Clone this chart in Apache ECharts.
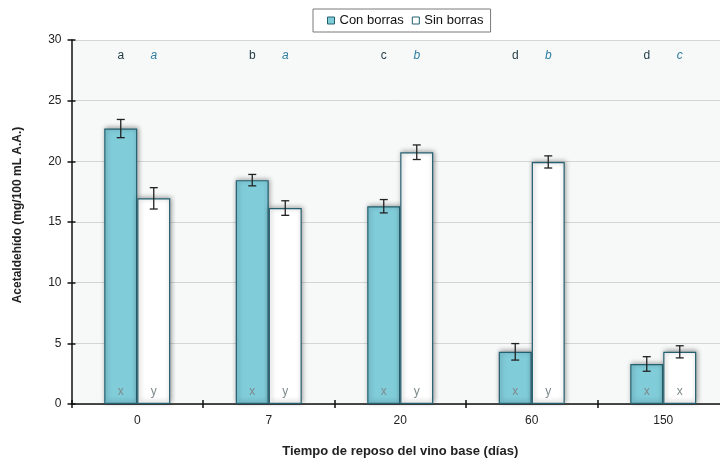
<!DOCTYPE html>
<html>
<head>
<meta charset="utf-8">
<script src="https://cdn.jsdelivr.net/npm/echarts@6/dist/echarts.min.js"></script>
<style>
  html, body { margin: 0; padding: 0; background: #ffffff; }
  #chart { width: 720px; height: 458px; }
</style>
</head>
<body>
<div id="chart"></div>
<script>
// Acetaldehyde content by ageing time of the base wine, with and without lees
const categories = ['0', '7', '20', '60', '150'];
const conBorras = [22.7, 18.45, 16.3, 4.3, 3.3];
const conBorrasErr = [0.75, 0.47, 0.55, 0.68, 0.6];
const sinBorras = [16.95, 16.15, 20.75, 19.95, 4.3];
const sinBorrasErr = [0.88, 0.6, 0.6, 0.5, 0.5];
// significance letters shown above the bars
const letrasCon = ['a', 'b', 'c', 'd', 'd'];
const letrasSin = ['a', 'a', 'b', 'b', 'c'];
// letters shown at the foot of each bar
const letrasBaseCon = ['x', 'x', 'x', 'x', 'x'];
const letrasBaseSin = ['y', 'y', 'y', 'y', 'x'];
const yTicks = [0, 5, 10, 15, 20, 25, 30];
const letterLevel = 28.7;

const FONT = '"Liberation Sans", Arial, sans-serif';
const BAR_W = 33;
const TEAL = '#80ccd9';
const EDGE = '#24606f';

const chart = echarts.init(document.getElementById('chart'), null, { renderer: 'canvas' });

function errorBars(values, errs, offset) {
  return {
    type: 'custom',
    z: 10,
    silent: true,
    data: values.map((v, i) => [i, v, errs[i]]),
    renderItem: function (params, api) {
      const hi = api.coord([api.value(0), api.value(1) + api.value(2)]);
      const lo = api.coord([api.value(0), api.value(1) - api.value(2)]);
      const x = hi[0] + offset;
      const cap = 4;
      const st = { stroke: '#222', lineWidth: 1.3 };
      return {
        type: 'group',
        children: [
          { type: 'line', shape: { x1: x, y1: hi[1], x2: x, y2: lo[1] }, style: st },
          { type: 'line', shape: { x1: x - cap, y1: hi[1], x2: x + cap, y2: hi[1] }, style: st },
          { type: 'line', shape: { x1: x - cap, y1: lo[1], x2: x + cap, y2: lo[1] }, style: st }
        ]
      };
    }
  };
}

function letterSeries(letters, level, offset, color, italic) {
  return {
    type: 'custom',
    z: 11,
    silent: true,
    data: letters.map((t, i) => [i, level]),
    renderItem: function (params, api) {
      const p = api.coord([api.value(0), api.value(1)]);
      return {
        type: 'text',
        style: {
          x: p[0] + offset,
          y: p[1],
          text: letters[params.dataIndex],
          fill: color,
          font: (italic ? 'italic ' : '') + '12px ' + FONT,
          textAlign: 'center',
          textVerticalAlign: 'middle'
        }
      };
    }
  };
}

const barShadow = {
  shadowBlur: 5,
  shadowColor: 'rgba(0,0,0,0.4)',
  shadowOffsetX: 1,
  shadowOffsetY: -1
};

const option = {
  backgroundColor: '#ffffff',
  animation: false,
  textStyle: { fontFamily: FONT },
  legend: {
    data: ['Con borras', 'Sin borras'],
    left: 313,
    top: 9,
    backgroundColor: '#ffffff',
    borderColor: '#7a7a7a',
    borderWidth: 1,
    borderRadius: 0,
    padding: [5, 7, 5, 14],
    itemGap: 8,
    icon: 'rect',
    itemWidth: 7,
    itemHeight: 7,
    textStyle: { fontSize: 13, color: '#111', fontFamily: FONT },
    itemStyle: { borderColor: EDGE, borderWidth: 1 }
  },
  grid: {
    left: 71.5,
    right: -9,
    top: 40,
    bottom: 54,
    outerBoundsMode: 'none',
    containLabel: false,
    show: true,
    backgroundColor: '#f7f9f9',
    borderWidth: 0
  },
  xAxis: [{
    type: 'category',
    data: categories,
    boundaryGap: true,
    name: 'Tiempo de reposo del vino base (días)',
    nameLocation: 'middle',
    nameGap: 41,
    nameTextStyle: { fontSize: 13, fontWeight: 'bold', color: '#222', fontFamily: FONT },
    axisLine: { lineStyle: { color: '#111', width: 1.5 } },
    axisTick: { show: true, length: 4, lineStyle: { color: '#111', width: 1.5 } },
    axisLabel: { fontSize: 12, color: '#222', margin: 11, fontFamily: FONT },
    splitLine: { show: false }
  }, {
    type: 'category',
    data: categories,
    position: 'bottom',
    boundaryGap: true,
    axisLine: { show: false },
    axisTick: { show: true, inside: true, length: 4, lineStyle: { color: '#111', width: 1.5 } },
    axisLabel: { show: false },
    splitLine: { show: false }
  }],
  yAxis: [{
    type: 'value',
    min: yTicks[0],
    max: yTicks[yTicks.length - 1],
    interval: 5,
    name: 'Acetaldehído (mg/100 mL A.A.)',
    nameLocation: 'middle',
    nameGap: 48,
    nameTextStyle: { fontSize: 12, fontWeight: 'bold', color: '#222', fontFamily: FONT, padding: [0, 0, 0, 14] },
    axisLine: { show: true, lineStyle: { color: '#111', width: 1.5 } },
    axisTick: { show: true, length: 4, lineStyle: { color: '#111', width: 1.5 } },
    axisLabel: { fontSize: 12, color: '#222', margin: 10, fontFamily: FONT },
    splitLine: { show: true, lineStyle: { color: '#d4d6d6', width: 1 } }
  }, {
    type: 'value',
    min: yTicks[0],
    max: yTicks[yTicks.length - 1],
    interval: 5,
    position: 'left',
    axisLine: { show: false },
    axisTick: { show: true, inside: true, length: 4, lineStyle: { color: '#111', width: 1.5 } },
    axisLabel: { show: false },
    splitLine: { show: false }
  }],
  series: [
    {
      name: 'Con borras',
      type: 'bar',
      data: conBorras,
      barWidth: BAR_W,
      barGap: '0%',
      itemStyle: Object.assign({ color: TEAL, borderColor: EDGE, borderWidth: 1.2 }, barShadow),
      label: {
        show: true,
        position: 'insideBottom',
        distance: 6,
        formatter: p => letrasBaseCon[p.dataIndex],
        color: '#7f8a8c',
        fontSize: 12,
        fontFamily: FONT
      }
    },
    {
      name: 'Sin borras',
      type: 'bar',
      data: sinBorras,
      barWidth: BAR_W,
      barGap: '0%',
      itemStyle: Object.assign({ color: '#ffffff', borderColor: EDGE, borderWidth: 1.2 }, barShadow),
      label: {
        show: true,
        position: 'insideBottom',
        distance: 6,
        formatter: p => letrasBaseSin[p.dataIndex],
        color: '#7f8a8c',
        fontSize: 12,
        fontFamily: FONT
      }
    },
    errorBars(conBorras, conBorrasErr, -BAR_W / 2),
    errorBars(sinBorras, sinBorrasErr, BAR_W / 2),
    letterSeries(letrasCon, letterLevel, -BAR_W / 2, '#1f3942', false),
    letterSeries(letrasSin, letterLevel, BAR_W / 2, '#2f7c9e', true)
  ]
};

chart.setOption(option);
</script>
</body>
</html>
